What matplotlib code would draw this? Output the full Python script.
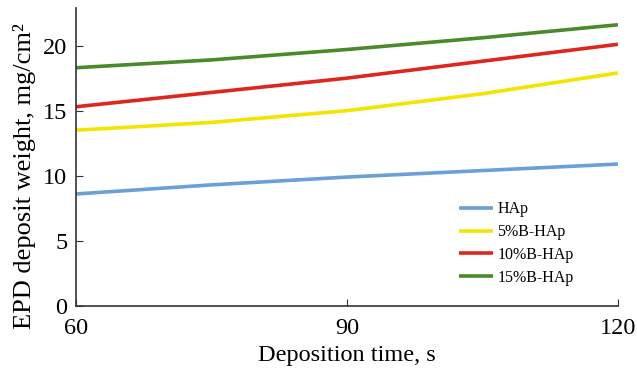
import matplotlib
matplotlib.use("Agg")
import matplotlib.pyplot as plt

time_s = [60, 75, 90, 105, 120]
hap = [8.6, 9.3, 9.9, 10.4, 10.9]
b5 = [13.5, 14.1, 15.0, 16.3, 17.9]
b10 = [15.3, 16.4, 17.5, 18.8, 20.1]
b15 = [18.3, 18.9, 19.7, 20.6, 21.6]
labels = ["HAp", "5%B-HAp", "10%B-HAp", "15%B-HAp"]
colors = ["#6a9fd8", "#f5e400", "#e0261c", "#4a8a2a"]

plt.rcParams['font.family'] = ['Liberation Serif', 'DejaVu Serif']
fig = plt.figure(figsize=(6.37, 3.74), dpi=100)
ax = fig.add_axes([0.119, 0.182, 0.851, 0.797])
for ys, lab, c in zip([hap, b5, b10, b15], labels, colors):
    ax.plot(time_s, ys, color=c, lw=2.6, label=lab, solid_capstyle='butt')
ax.set_xlim(60, 120)
ax.set_ylim(0, 22.9)
ax.set_xticks([60, 90, 120])
ax.set_yticks([0, 5, 10, 15, 20])
ax.tick_params(direction='in', labelsize=17.5, length=5, color='#333333')
ax.tick_params(axis='x', pad=9)
ax.tick_params(axis='y', pad=6)
for s in ['top', 'right']:
    ax.spines[s].set_visible(False)
for s in ['left', 'bottom']:
    ax.spines[s].set_color('#333333')
    ax.spines[s].set_linewidth(1.2)
ax.set_xlabel("Deposition time, s", fontsize=17.5, labelpad=4)
ax.set_ylabel("EPD deposit weight, mg/cm²", fontsize=19)
ax.yaxis.set_label_coords(-0.074, 0.435)
ax.legend(loc='lower right', bbox_to_anchor=(0.945, 0.02), frameon=False, fontsize=11.5,
          handlelength=2.1, handletextpad=0.3, labelspacing=0.42)
fig.savefig("out.png", dpi=100)
